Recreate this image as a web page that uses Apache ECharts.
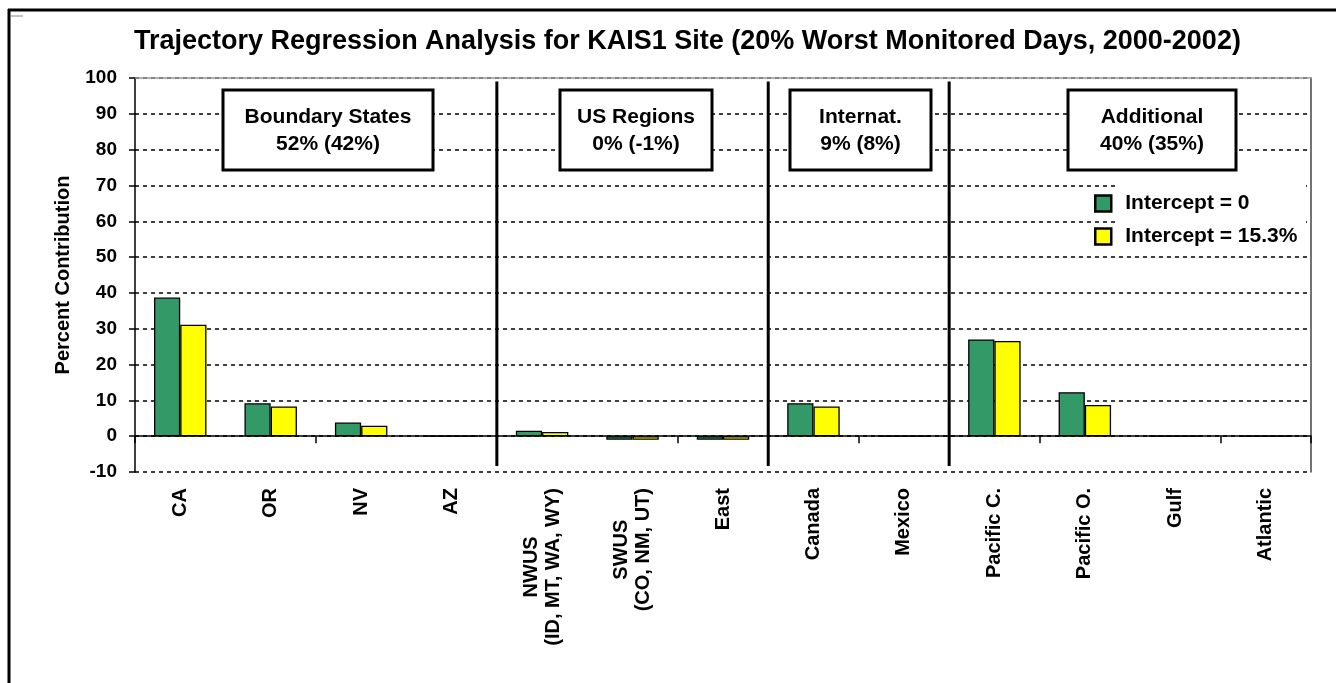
<!DOCTYPE html>
<html><head><meta charset="utf-8">
<script src="https://cdn.jsdelivr.net/npm/echarts/dist/echarts.min.js"></script>
<style>html,body{margin:0;padding:0;background:#fff}#c{width:1336px;height:683px}</style>
</head><body><div id="c"></div>
<script>
// ---- data ----
const categories = ['CA','OR','NV','AZ','NWUS\n(ID, MT, WA, WY)','SWUS\n(CO, NM, UT)','East','Canada','Mexico','Pacific C.','Pacific O.','Gulf','Atlantic'];
const interceptZero = [38.7, 9.2, 3.8, 0, 1.5, -1.0, -1.0, 9.2, 0, 27.0, 12.3, 0, 0];
const interceptFifteen = [31.1, 8.3, 2.9, 0, 1.2, -1.0, -1.0, 8.3, 0, 26.6, 8.7, 0, 0];
const seriesNames = ['Intercept = 0', 'Intercept = 15.3%'];
const groupNames = ['Boundary States', 'US Regions', 'Internat.', 'Additional'];
const groupTotals = ['52% (42%)', '0% (-1%)', '9% (8%)', '40% (35%)'];
const groupSizes = [4, 3, 2, 4];
const yMin = -10, yMax = 100, yStep = 10;
const titleText = 'Trajectory Regression Analysis for KAIS1 Site (20% Worst Monitored Days, 2000-2002)';
const yAxisTitle = 'Percent Contribution';

// ---- layout / style ----
const FONT = '"Liberation Sans", Arial, sans-serif';
const boxRects = [[223, 90, 210, 80], [560, 90, 152, 80], [790, 90, 141, 80], [1068, 90, 168, 80]];

const chart = echarts.init(document.getElementById('c'), null, {renderer: 'canvas'});

// group boundaries (in category index units) from group sizes
const boundaries = [];
let cum = 0;
for (let i = 0; i < groupSizes.length - 1; i++) { cum += groupSizes[i]; boundaries.push(cum - 0.5); }

const sepSeries = boundaries.map(b => ({
  type: 'line', xAxisIndex: 3, yAxisIndex: 0, silent: true, symbol: 'none', z: 5,
  lineStyle: {color: '#000', width: 3, type: 'solid'},
  data: [[b, 99], [b, -8.3]]
}));

const graphics = [
  {type: 'line', shape: {x1: 8, y1: 10, x2: 1336, y2: 10}, style: {stroke: '#000', lineWidth: 3}, z: 10},
  {type: 'line', shape: {x1: 9, y1: 9, x2: 9, y2: 683}, style: {stroke: '#000', lineWidth: 3}, z: 10},
  {type: 'line', shape: {x1: 11, y1: 16, x2: 23, y2: 16}, style: {stroke: '#888', lineWidth: 1}, z: 10},
  {type: 'rect', shape: {x: 1118, y: 184, width: 188, height: 68}, style: {fill: '#fff'}, z: 3}
];
groupNames.forEach((g, i) => {
  const [x, y, w, h] = boxRects[i];
  graphics.push({type: 'rect', shape: {x: x, y: y, width: w, height: h},
    style: {fill: '#fff', stroke: '#000', lineWidth: 3}, z: 20});
  graphics.push({type: 'text', x: x + w / 2, y: y + h / 2 + 1, z: 21,
    style: {text: g + '\n' + groupTotals[i], fill: '#000', font: 'bold 21px ' + FONT,
      align: 'center', verticalAlign: 'middle', lineHeight: 27}});
});

const option = {
  animation: false,
  backgroundColor: '#fff',
  title: {text: titleText, left: 129, top: 23,
    textStyle: {fontFamily: FONT, fontWeight: 'bold', fontSize: 27, color: '#000'}},
  legend: {
    data: seriesNames, orient: 'vertical', left: 1089, top: 188, itemWidth: 16, itemHeight: 16, itemGap: 12,
    icon: 'rect', selectedMode: false,
    itemStyle: {borderColor: '#000', borderWidth: 2.5},
    textStyle: {fontFamily: FONT, fontWeight: 'bold', fontSize: 21, color: '#000', padding: [0, 0, 0, 9]}
  },
  grid: {left: 135, right: 25, top: 78, bottom: 211, containLabel: false, outerBoundsMode: 'none'},
  xAxis: [
    {type: 'category', data: categories, position: 'bottom',
      axisLine: {onZero: true, lineStyle: {color: '#000', width: 1.5}},
      axisTick: {show: true, length: 7, lineStyle: {color: '#000', width: 1.5}},
      axisLabel: {show: false}, splitLine: {show: false}, z: 4},
    {type: 'category', data: categories, position: 'bottom',
      axisLine: {show: false, onZero: false}, axisTick: {show: false}, splitLine: {show: false},
      axisLabel: {show: true, interval: 0, rotate: 90, margin: 16, color: '#000',
        formatter: v => v.split('\n').map(s => '{c|' + s + '}').join('\n'),
        rich: {c: {align: 'center', fontFamily: FONT, fontWeight: 'bold', fontSize: 20, lineHeight: 22, color: '#000'}}}},
    {type: 'category', data: categories, position: 'top',
      axisLine: {show: true, onZero: false, lineStyle: {color: '#999', width: 1.5}},
      axisTick: {show: false}, axisLabel: {show: false}, splitLine: {show: false}},
    {type: 'value', min: -0.5, max: categories.length - 0.5, show: false}
  ],
  yAxis: [
    {type: 'value', min: yMin, max: yMax, interval: yStep, position: 'left',
      name: yAxisTitle, nameLocation: 'middle', nameGap: 62, nameRotate: 90,
      nameTextStyle: {fontFamily: FONT, fontWeight: 'bold', fontSize: 20, color: '#000'},
      axisLine: {show: true, onZero: false, lineStyle: {color: '#000', width: 1.5}},
      axisTick: {show: true, length: 6, lineStyle: {color: '#000', width: 1.5}},
      axisLabel: {color: '#000', fontFamily: FONT, fontWeight: 'bold', fontSize: 19, margin: 18},
      splitLine: {show: true, lineStyle: {color: '#000', width: 1.5, type: [4, 4]}}},
    {type: 'value', min: yMin, max: yMax, interval: yStep, position: 'right',
      axisLine: {show: true, onZero: false, lineStyle: {color: '#444', width: 1.5}},
      axisTick: {show: false}, axisLabel: {show: false}, splitLine: {show: false}}
  ],
  series: [
    {name: seriesNames[0], type: 'bar', xAxisIndex: 0, yAxisIndex: 0, data: interceptZero,
      barGap: '0%', barCategoryGap: '42%',
      itemStyle: {color: '#339966', borderColor: '#000', borderWidth: 1.3}},
    {name: seriesNames[1], type: 'bar', xAxisIndex: 0, yAxisIndex: 0, data: interceptFifteen,
      barGap: '0%', barCategoryGap: '42%',
      itemStyle: {color: '#ffff00', borderColor: '#000', borderWidth: 1.3}}
  ].concat(sepSeries),
  graphic: graphics
};
chart.setOption(option);
</script>
</body></html>
